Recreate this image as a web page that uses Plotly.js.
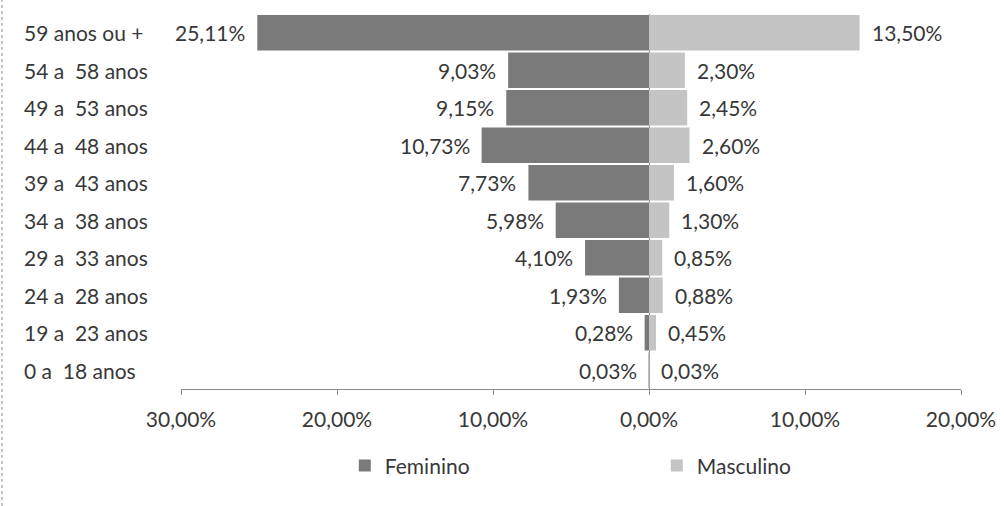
<!DOCTYPE html>
<html>
<head>
<meta charset="utf-8">
<script src="https://cdn.plot.ly/plotly-3.0.1.min.js"></script>
<style>html,body{margin:0;padding:0;background:#fff;}#chart{width:1004px;height:506px;}</style>
</head>
<body>
<div id="chart"></div>
<script>
// Data (bottom to top)
const categories = ["0 a  18 anos","19 a  23 anos","24 a  28 anos","29 a  33 anos","34 a  38 anos","39 a  43 anos","44 a  48 anos","49 a  53 anos","54 a  58 anos","59 anos ou +"];
const feminino = [0.03, 0.28, 1.93, 4.10, 5.98, 7.73, 10.73, 9.15, 9.03, 25.11];
const masculino = [0.03, 0.45, 0.88, 0.85, 1.30, 1.60, 2.60, 2.45, 2.30, 13.50];
const tickVals = [-30, -20, -10, 0, 10, 20];
const tickLabels = ["30,00%", "20,00%", "10,00%", "0,00%", "10,00%", "20,00%"];

const fmt = v => v.toFixed(2).replace('.', ',') + '%';
const FONT = 'Lato, "Open Sans", sans-serif';
const FS = 21;
const TXT = '#383838';

const traces = [
  {type:'bar', orientation:'h', name:'Feminino', y:categories, x:feminino.map(v=>-v),
   marker:{color:'#7a7a7a'}, hoverinfo:'skip', legend:'legend'},
  {type:'bar', orientation:'h', name:'Masculino', y:categories, x:masculino,
   marker:{color:'#c4c4c4'}, hoverinfo:'skip', legend:'legend2'}
];

const annotations = [];
categories.forEach((c,i)=>{
  annotations.push({xref:'paper', yref:'y', x:-0.204, y:c, text:c.replace(/  /g,'&nbsp; '), showarrow:false,
    xanchor:'left', yanchor:'middle', font:{family:FONT, size:FS, color:TXT}});
  annotations.push({xref:'x', yref:'y', x:-feminino[i], y:c, text:fmt(feminino[i]), showarrow:false,
    xanchor:'right', yanchor:'middle', xshift:-10, font:{family:FONT, size:FS, color:TXT}});
  annotations.push({xref:'x', yref:'y', x:masculino[i], y:c, text:fmt(masculino[i]), showarrow:false,
    xanchor:'left', yanchor:'middle', xshift:10, font:{family:FONT, size:FS, color:TXT}});
});

const legendBase = {orientation:'h', yanchor:'middle', xanchor:'left', y:-0.205,
  bgcolor:'rgba(0,0,0,0)', font:{family:FONT, size:FS, color:TXT}};

const layout = {
  width:1004, height:506,
  margin:{l:181, r:43, t:14, b:117},
  paper_bgcolor:'#fff', plot_bgcolor:'#fff',
  barmode:'overlay', bargap:0.05,
  font:{family:FONT, size:FS, color:TXT},
  xaxis:{range:[-30,20], tickvals:tickVals, ticktext:tickLabels, showgrid:false,
    zeroline:true, zerolinecolor:'#8c8c8c', zerolinewidth:1,
    showline:true, linecolor:'#8c8c8c', linewidth:1, ticks:'outside', ticklen:5, tickcolor:'#8c8c8c',
    ticklabelstandoff:7,
    tickfont:{family:FONT, size:FS, color:TXT}, fixedrange:true},
  yaxis:{type:'category', categoryorder:'array', categoryarray:categories, showticklabels:false,
    showgrid:false, zeroline:false, showline:false, range:[-0.5, 9.5], fixedrange:true},
  showlegend:true,
  legend:Object.assign({}, legendBase, {x:0.21}),
  legend2:Object.assign({}, legendBase, {x:0.61}),
  annotations:annotations,
  shapes:[{type:'line', xref:'paper', yref:'paper', x0:-0.2295, x1:-0.2295, y0:-0.312, y1:1.037,
    line:{color:'#8a8a8a', width:1, dash:'dot'}}]
};

Plotly.newPlot('chart', traces, layout, {staticPlot:true, displayModeBar:false});
</script>
</body>
</html>
